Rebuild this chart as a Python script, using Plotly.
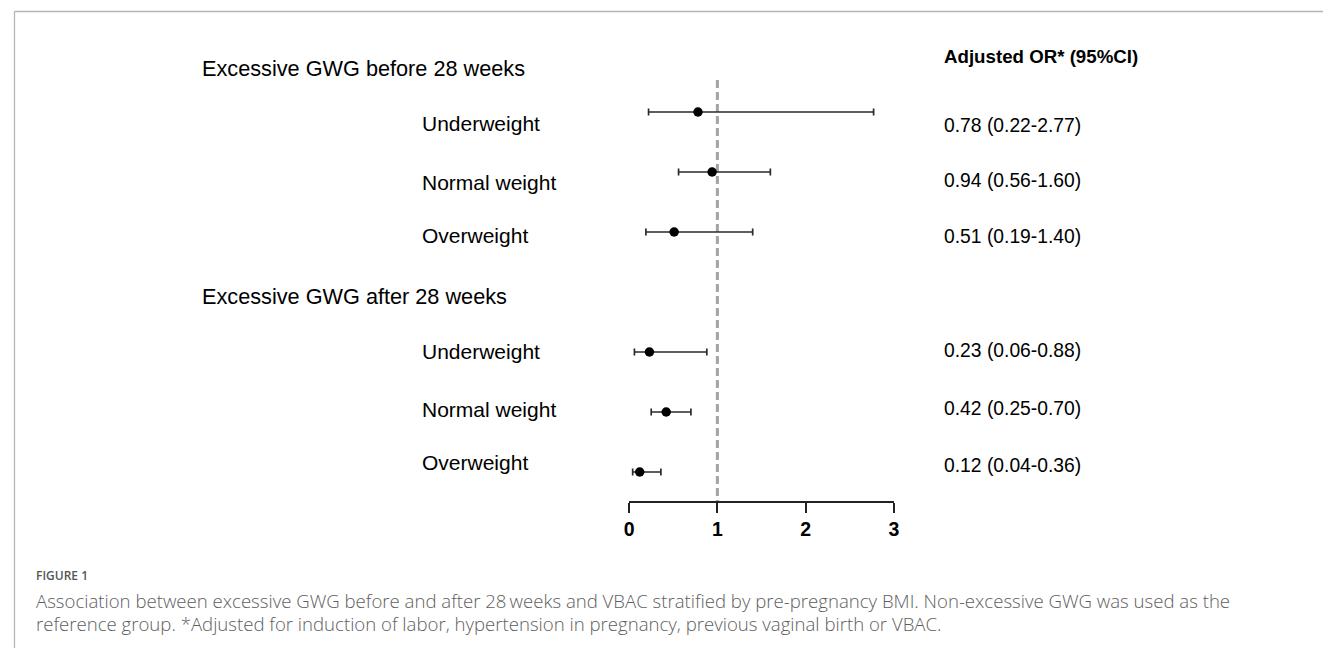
import plotly.graph_objects as go

# ---------------- data ----------------
groups = ["Excessive GWG before 28 weeks", "Excessive GWG after 28 weeks"]
row_labels = ["Underweight", "Normal weight", "Overweight",
              "Underweight", "Normal weight", "Overweight"]
row_group = [0, 0, 0, 1, 1, 1]
or_est = [0.78, 0.94, 0.51, 0.23, 0.42, 0.12]
ci_low = [0.22, 0.56, 0.19, 0.06, 0.25, 0.04]
ci_high = [2.77, 1.60, 1.40, 0.88, 0.70, 0.36]
x_ticks = [0, 1, 2, 3]
ref_line = 1
col_header = "Adjusted OR* (95%CI)"
fig_label = "FIGURE 1"
caption_lines = [
    "Association between excessive GWG before and after 28\u2009weeks and VBAC stratified by pre-pregnancy BMI. Non-excessive GWG was used as the",
    "reference group. *Adjusted for induction of labor, hypertension in pregnancy, previous vaginal birth or VBAC.",
]

# ---------------- layout helpers ----------------
OFF = 8                         # page body margin
W, H = 1331 - OFF, 648 - OFF
slots = [i + g for i, g in zip(range(len(row_labels)), row_group)]
PX0, PXSTEP = 112, 60           # pixel of slot 0 and pixels per slot
AXIS_PX = 501                   # pixel row of x-axis line
y_bottom = (AXIS_PX - PX0) / PXSTEP
y_top = (OFF - PX0) / PXSTEP


def px_x(p):
    return (p - OFF) / W


def px_y(p):
    return 1 - (p - OFF) / H


ydom0 = px_y(AXIS_PX)

FONT = "Liberation Sans, Arial, sans-serif"
CAP_FONT = "Open Sans, sans-serif"

fig = go.Figure()

# reference dashed line
fig.add_trace(go.Scatter(
    x=[ref_line, ref_line], y=[(80 - PX0) / PXSTEP, y_bottom],
    mode="lines", line=dict(color="#a3a3a3", width=3, dash="8px,4px"),
    hoverinfo="skip", showlegend=False, cliponaxis=False))

# estimates with CIs
fig.add_trace(go.Scatter(
    x=or_est, y=slots, mode="markers",
    marker=dict(color="black", size=9.5),
    error_x=dict(type="data", symmetric=False,
                 array=[h - e for h, e in zip(ci_high, or_est)],
                 arrayminus=[e - l for e, l in zip(or_est, ci_low)],
                 color="#2a2a2a", thickness=1.7, width=3.5),
    showlegend=False, cliponaxis=False))

annotations = []
header_slots = [-0.717, 3.08]
for g, s in zip(groups, header_slots):
    annotations.append(dict(text=g, x=px_x(197), xref="paper", y=s, yref="y",
                            xanchor="left", yanchor="middle", showarrow=False,
                            font=dict(family=FONT, size=21.7, color="black")))
label_shift = [-11, -10, -3, 1, 3, 10]
value_shift = [-13, -8, -4, 2, 4, 7]
for lab, s, e, lo, hi, ls, vs in zip(row_labels, slots, or_est, ci_low, ci_high,
                                     label_shift, value_shift):
    annotations.append(dict(text=lab, x=px_x(418), xref="paper", y=s, yref="y",
                            yshift=ls, xanchor="left", yanchor="middle", showarrow=False,
                            font=dict(family=FONT, size=21, color="black")))
    annotations.append(dict(text=f"{e:.2f} ({lo:.2f}-{hi:.2f})", x=px_x(945), xref="paper",
                            y=s, yref="y", yshift=vs, xanchor="left", yanchor="middle",
                            showarrow=False,
                            font=dict(family=FONT, size=19.3, color="black")))
annotations.append(dict(text=f"<b>{col_header}</b>", x=px_x(945), xref="paper",
                        y=-0.92, yref="y", xanchor="left", yanchor="middle",
                        showarrow=False, font=dict(family=FONT, size=18.7, color="black")))

# caption
annotations.append(dict(text=fig_label, x=px_x(29), xref="paper", y=px_y(575), yref="paper",
                        xanchor="left", yanchor="middle", showarrow=False,
                        font=dict(family=CAP_FONT, size=12, color="#555555", weight=600)))
for i, line in enumerate(caption_lines):
    annotations.append(dict(text=line, x=px_x(29), xref="paper", y=px_y(600 + 23 * i),
                            yref="paper", xanchor="left", yanchor="middle", showarrow=False,
                            font=dict(family=CAP_FONT, size=18.6, color="#5e5e5e", weight=300)))

shapes = [
    dict(type="line", xref="paper", yref="paper", x0=px_x(9.5), x1=1, y0=px_y(11.5), y1=px_y(11.5),
         line=dict(color="#b5b5b5", width=1.3)),
    dict(type="line", xref="paper", yref="paper", x0=px_x(9.5), x1=px_x(9.5), y0=px_y(11.5), y1=0,
         line=dict(color="#b5b5b5", width=1.3)),
]

fig.update_layout(
    width=W, height=H, margin=dict(l=0, r=0, t=0, b=0),
    paper_bgcolor="white", plot_bgcolor="white",
    xaxis=dict(domain=[px_x(629.3), px_x(896.3)], range=[0, 3],
               tickvals=x_ticks, ticktext=[str(t) for t in x_ticks],
               showline=True, linecolor="#222222", linewidth=1.5,
               ticks="outside", ticklen=10, tickwidth=1.5, tickcolor="#222222",
               showgrid=False, zeroline=False,
               tickfont=dict(family=FONT, size=19.5, color="black", weight="bold")),
    yaxis=dict(domain=[ydom0, 1], range=[y_bottom, y_top], visible=False,
               showgrid=False, zeroline=False),
    annotations=annotations, shapes=shapes,
)

fig.write_html("out.html")
